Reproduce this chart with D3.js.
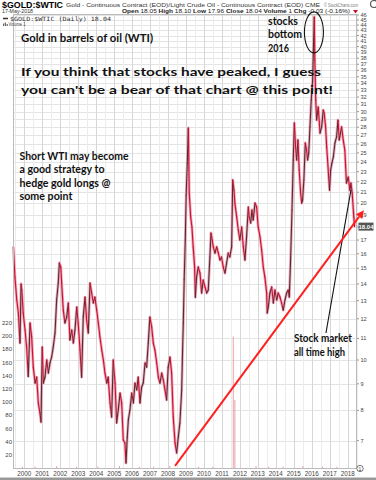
<!DOCTYPE html>
<html><head><meta charset="utf-8">
<script src="https://cdn.jsdelivr.net/npm/d3@7"></script>
<style>html,body{margin:0;padding:0;background:#fff;overflow:hidden}svg{display:block}</style>
</head><body><svg id="c" width="376" height="480"></svg>
<script>
// ---- data ----
const years = [1999.39,1999.48,1999.58,1999.67,1999.76,1999.82,1999.86,1999.94,2000.04,2000.13,
2000.22,2000.32,2000.41,2000.50,2000.60,2000.69,2000.78,2000.87,2000.93,2001.00,
2001.06,2001.15,2001.25,2001.34,2001.43,2001.52,2001.61,2001.71,2001.80,2001.89,
2001.95,2002.03,2002.08,2002.17,2002.26,2002.36,2002.45,2002.54,2002.64,2002.73,
2002.82,2002.92,2003.00,2003.10,2003.19,2003.28,2003.38,2003.47,2003.56,2003.66,
2003.75,2003.84,2003.93,2004.03,2004.12,2004.21,2004.31,2004.40,2004.49,2004.59,
2004.67,2004.77,2004.86,2004.95,2005.05,2005.14,2005.23,2005.33,2005.42,2005.51,
2005.60,2005.66,2005.73,2005.79,2005.88,2005.98,2006.07,2006.16,2006.26,2006.34,
2006.44,2006.53,2006.62,2006.72,2006.81,2006.90,2006.99,2007.09,2007.18,2007.27,
2007.37,2007.46,2007.55,2007.65,2007.74,2007.83,2007.92,2008.01,2008.11,2008.20,
2008.29,2008.39,2008.48,2008.57,2008.66,2008.76,2008.81,2008.85,2008.90,2008.96,
2009.01,2009.07,2009.13,2009.18,2009.26,2009.33,2009.40,2009.48,2009.52,2009.59,
2009.68,2009.78,2009.87,2009.96,2010.06,2010.15,2010.24,2010.33,2010.39,2010.46,
2010.52,2010.61,2010.71,2010.80,2010.89,2010.98,2011.07,2011.17,2011.26,2011.35,
2011.44,2011.54,2011.60,2011.67,2011.72,2011.82,2011.91,2012.00,2012.10,2012.19,
2012.28,2012.37,2012.47,2012.52,2012.60,2012.67,2012.74,2012.84,2012.93,2013.02,
2013.12,2013.21,2013.30,2013.39,2013.49,2013.52,2013.58,2013.67,2013.77,2013.86,
2013.95,2014.05,2014.13,2014.23,2014.32,2014.41,2014.51,2014.60,2014.69,2014.75,
2014.82,2014.90,2014.97,2015.03,2015.10,2015.16,2015.23,2015.30,2015.38,2015.44,
2015.49,2015.56,2015.64,2015.71,2015.77,2015.83,2015.90,2015.97,2016.05,2016.09,
2016.14,2016.17,2016.22,2016.27,2016.36,2016.46,2016.55,2016.64,2016.69,2016.77,
2016.83,2016.88,2016.94,2016.99,2017.05,2017.12,2017.20,2017.29,2017.38,2017.46,
2017.53,2017.66,2017.75,2017.84,2017.93,2018.03,2018.12,2018.18,2018.25,2018.34,
2018.38];
const ratio = [16.5,14.43,13.04,12.31,10.78,14.0,13.63,12.31,11.42,10.59,
9.3,11.78,11.07,9.69,9.03,9.27,8.27,7.91,7.60,10.59,
9.03,9.27,10.0,9.44,9.87,10.13,10.59,11.27,13.04,14.05,
15.36,15.09,14.05,12.47,11.78,12.09,12.87,10.93,11.42,10.78,
11.42,12.64,11.78,10.45,9.27,12.09,13.21,11.93,11.27,14.05,
13.45,12.87,13.21,12.47,11.78,11.07,10.45,10.0,9.44,9.03,
9.27,8.27,7.77,10.0,9.03,7.57,8.02,8.64,8.27,7.02,
6.93,6.34,7.11,7.67,8.02,8.64,8.27,9.03,8.76,9.27,
8.27,8.87,9.03,9.87,9.69,10.78,12.09,11.57,10.78,10.45,
9.87,9.27,9.03,9.44,9.15,8.76,8.38,9.69,10.13,9.44,
7.77,6.93,6.63,7.11,7.57,8.76,10.45,11.78,14.3,17.0,
20.74,23.89,27.91,20.93,18.83,18.01,16.49,15.09,13.2,14.43,
15.09,14.69,13.45,14.24,13.81,13.45,13.63,15.77,17.54,17.0,
16.49,16.05,16.49,16.05,15.56,15.77,15.09,14.69,15.36,16.05,
15.77,16.49,22.17,21.2,20.02,18.83,17.77,17.0,18.01,16.49,
15.56,17.23,19.67,18.83,18.33,19.42,18.57,20.02,19.67,18.0,
17.23,16.27,15.09,14.43,13.45,12.31,12.64,13.45,13.81,12.87,
13.63,13.04,13.45,13.21,12.87,12.47,13.04,13.45,13.63,13.21,
15.56,19.42,24.22,28.53,25.65,24.22,26.47,23.17,20.93,20.02,
20.29,22.17,26.12,25.32,24.22,24.98,28.04,31.58,34.5,39.4,
45.6,37.7,31.6,28.91,30.62,27.29,28.04,30.21,29.82,28.04,
25.65,24.22,22.47,21.2,23.17,23.89,24.54,26.12,26.82,28.9,
26.47,28.04,26.47,25.32,21.88,22.47,21.2,21.88,20.93,18.83,
18.04];
const volYears = [1999.9,2000.6,2001.8,2002.9,2004.1,2005.3,2006.4,2007.2,2008.1,2009.7,2010.5,2011.63,2011.72,2012.9,2013.6,2014.4,2015.5,2016.6,2017.4];
const volume = [2,2,3,2,2,3,2,2,3,2,2,199,103,3,2,2,3,2,2];
const rightTicks = d3.range(7, 47);
const leftTicks = [20,40,60,80,100,120,140,160,180,200,220];
const yearTicks = d3.range(2000, 2019);
const lastValue = 18.04;
const trendLine = [[2008.39, 6.26], [2018.9, 19.4]];
const pointerLine = [[2016.79, 11.27], [2018.18, 21.2]];
const bottomMark = [2016.12, 42.6];

// ---- layout ----
const svg = d3.select("#c");
const P = {l: 13, r: 357, t: 14, b: 469};
const x = d3.scaleLinear().domain([2000, 2018]).range([24.3, 347.7]);
const y = d3.scaleLog().domain([10, 20]).range([360, 203.3]);
const yv = d3.scaleLinear().domain([0, 220]).range([468, 322.7]);
const F = "'Liberation Sans', Arial, sans-serif";
const A = "Lato, 'Open Sans', sans-serif";

// header
svg.append("text").attr("x",2).attr("y",7.5).attr("font-family",F).attr("font-weight","bold")
  .attr("font-size",8.6).attr("textLength",61).attr("lengthAdjust","spacingAndGlyphs").text("$GOLD:$WTIC");
svg.append("text").attr("x",66).attr("y",7).attr("font-family",F).attr("font-size",6).attr("fill","#333")
  .attr("textLength",254).attr("lengthAdjust","spacingAndGlyphs")
  .text("Gold - Continuous Contract (EOD)/Light Crude Oil - Continuous Contract (EOD) CME");
svg.append("text").attr("x",324).attr("y",7).attr("font-family",F).attr("font-size",6).attr("fill","#777")
  .attr("textLength",34).attr("lengthAdjust","spacingAndGlyphs").text("© StockCharts.com");
svg.append("circle").attr("cx",374).attr("cy",4).attr("r",3.5).attr("fill","none").attr("stroke","#555").attr("stroke-width",1.2);
svg.append("text").attr("x",2).attr("y",13.2).attr("font-family",F).attr("font-size",5.4).attr("fill","#333")
  .attr("textLength",31).attr("lengthAdjust","spacingAndGlyphs").text("17-May-2018");
const hdr = svg.append("text").attr("x",122).attr("y",13.2).attr("font-family",F).attr("font-size",5.6).attr("fill","#222")
  .attr("textLength",228).attr("lengthAdjust","spacingAndGlyphs");
[["Open ",1],["18.05 ",0],["High ",1],["18.10 ",0],["Low ",1],["17.96 ",0],["Close ",1],["18.04 ",0],["Volume ",1],["1 ",0],["Chg ",1],["-0.03 (-0.16%)",0]]
  .forEach(([t,b]) => hdr.append("tspan").attr("font-weight", b ? "bold" : "normal").text(t));
svg.append("path").attr("d","M353,10 L358,10 L355.5,13.5 Z").attr("fill","#c8102e");

// plot frame + grid
const g = svg.append("g");
g.append("rect").attr("x",P.l).attr("y",P.t).attr("width",P.r-P.l).attr("height",P.b-P.t).attr("fill","#fff");
g.selectAll(".hg").data(rightTicks).join("line")
  .attr("x1",P.l).attr("x2",P.r).attr("y1",d=>Math.round(y(d))+0.5).attr("y2",d=>Math.round(y(d))+0.5)
  .attr("stroke","#e4e4e4").attr("stroke-width",1);
const halfYears = d3.range(1999.5, 2018.6, 0.5).filter(v => x(v) > P.l && x(v) < P.r);
g.selectAll(".vg").data(halfYears).join("line")
  .attr("x1",d=>Math.round(x(d))+0.5).attr("x2",d=>Math.round(x(d))+0.5).attr("y1",P.t).attr("y2",P.b)
  .attr("stroke",d => Number.isInteger(d) ? "#d6d6d6" : "#ececec").attr("stroke-width",1);

// volume bars
g.selectAll(".vb").data(volYears.map((d,i)=>[d, volume[i]])).join("line")
  .attr("x1",d=>x(d[0])).attr("x2",d=>x(d[0])).attr("y1",yv(0)).attr("y2",d=>yv(d[1]))
  .attr("stroke","#e8a0a8").attr("stroke-width",1);
g.append("line").attr("x1",P.l).attr("x2",P.r).attr("y1",P.b-0.5).attr("y2",P.b-0.5).attr("stroke","#e8a8b0");

// price line
const pts = years.map((d,i)=>[d, ratio[i]]);
const line = d3.line().x(d=>x(d[0])).y(d=>y(d[1]));
g.append("path").attr("d",line(pts)).attr("fill","none").attr("stroke","#f2a6b8").attr("stroke-width",2.8)
  .attr("stroke-linejoin","round");
g.selectAll(".seg").data(d3.pairs(pts)).join("line")
  .attr("x1",d=>x(d[0][0])).attr("y1",d=>y(d[0][1])).attr("x2",d=>x(d[1][0])).attr("y2",d=>y(d[1][1]))
  .attr("stroke",d => d[1][1] >= d[0][1] ? "#4a3035" : "#c8102e").attr("stroke-width",1.1).attr("stroke-linecap","round");

// frame border
g.append("rect").attr("x",P.l+0.5).attr("y",P.t+0.5).attr("width",P.r-P.l-1).attr("height",P.b-P.t-1)
  .attr("fill","none").attr("stroke","#bbb");

// legend inside plot
svg.append("line").attr("x1",3).attr("x2",8).attr("y1",18.5).attr("y2",18.5).attr("stroke","#333").attr("stroke-width",1.5);
svg.append("text").attr("x",10).attr("y",20.5).attr("font-family","'DejaVu Sans Mono', monospace").attr("font-size",5.8)
  .attr("fill","#333").attr("textLength",101).attr("lengthAdjust","spacingAndGlyphs").text("$GOLD:$WTIC (Daily) 18.04");
svg.append("rect").attr("x",3).attr("y",23.5).attr("width",1.2).attr("height",2.5).attr("fill","#666");
svg.append("rect").attr("x",4.8).attr("y",22.5).attr("width",1.2).attr("height",3.5).attr("fill","#666");
svg.append("rect").attr("x",6.6).attr("y",24).attr("width",1.2).attr("height",2).attr("fill","#666");
svg.append("text").attr("x",8.5).attr("y",26.2).attr("font-family",F).attr("font-size",5).attr("fill","#444")
  .attr("textLength",17).attr("lengthAdjust","spacingAndGlyphs").text("Volume 1");

// right axis
const tagY = y(lastValue);
svg.selectAll(".rt").data(rightTicks.filter(d => Math.abs(y(d) - tagY) > 5)).join("text")
  .attr("x",360.5).attr("y",d=>y(d)+2).attr("font-family",F).attr("font-size",5.6).attr("fill","#444")
  .text(d=>d);
svg.selectAll(".rtk").data(rightTicks).join("line")
  .attr("x1",P.r).attr("x2",P.r+2).attr("y1",d=>y(d)).attr("y2",d=>y(d)).attr("stroke","#999");
// last value tag
svg.append("rect").attr("x",358.5).attr("y",tagY-4).attr("width",15).attr("height",8).attr("fill","#555");
svg.append("text").attr("x",366).attr("y",tagY+2.2).attr("text-anchor","middle").attr("font-family",F)
  .attr("font-size",6).attr("fill","#fff").attr("font-weight","bold").text(lastValue.toFixed(2));
// volume circle label
svg.append("circle").attr("cx",360).attr("cy",P.b-0.5).attr("r",3.2).attr("fill","#fff").attr("stroke","#555").attr("stroke-width",0.8);
svg.append("text").attr("x",360).attr("y",P.b+1.5).attr("text-anchor","middle").attr("font-family",F).attr("font-size",5).attr("fill","#333").text("1");

// left axis (volume)
svg.selectAll(".lt").data(leftTicks).join("text")
  .attr("x",12).attr("y",d=>yv(d)+2.2).attr("text-anchor","end").attr("font-family",F).attr("font-size",6).attr("fill","#444")
  .text(d=>d);

// bottom axis
svg.selectAll(".bt").data(yearTicks).join("text")
  .attr("x",d=>x(d)).attr("y",P.b+7).attr("text-anchor","middle").attr("font-family",F).attr("font-size",6.3).attr("fill","#444")
  .text(d=>d);
svg.append("rect").attr("x",0).attr("y",477.5).attr("width",376).attr("height",2.5).attr("fill","#999");

// annotations
function ann(t, x0, yb, w, size) {
  svg.append("text").attr("x",x0).attr("y",yb).attr("font-family",A).attr("font-weight","bold")
    .attr("font-size",size||10.5).attr("fill","#111").attr("textLength",w).attr("lengthAdjust","spacingAndGlyphs").text(t);
}
ann("Gold in barrels of oil (WTI)", 21, 41.5, 132);
ann("If you think that stocks have peaked, I guess", 21, 76, 300);
ann("you can't be a bear of that chart @ this point!", 21, 94, 312);
ann("Short WTI may become", 19.5, 159.5, 109);
ann("a good strategy to", 19.5, 173, 85);
ann("hedge gold longs @", 19.5, 186.5, 91);
ann("some point", 19.5, 200, 53);
ann("stocks", 268, 25, 30);
ann("bottom", 268, 38, 34);
ann("2016", 268, 51.5, 21);
ann("Stock market", 294, 342, 58);
ann("all time high", 294, 355.5, 51);

svg.append("ellipse").attr("cx",x(bottomMark[0])).attr("cy",y(bottomMark[1])).attr("rx",9.5).attr("ry",20.5)
  .attr("fill","none").attr("stroke","#111").attr("stroke-width",1.1);
svg.append("line").attr("x1",x(pointerLine[0][0])).attr("y1",y(pointerLine[0][1]))
  .attr("x2",x(pointerLine[1][0])).attr("y2",y(pointerLine[1][1])).attr("stroke","#111").attr("stroke-width",1.1);

// red trend arrow
const tx0 = x(trendLine[0][0]), ty0 = y(trendLine[0][1]), tx1 = x(trendLine[1][0]), ty1 = y(trendLine[1][1]);
const ang = Math.atan2(ty1-ty0, tx1-tx0);
const hl = 8, hw = 4;
const bx = tx1 - hl*Math.cos(ang), by = ty1 - hl*Math.sin(ang);
svg.append("line").attr("x1",tx0).attr("y1",ty0).attr("x2",bx).attr("y2",by).attr("stroke","#ff2020").attr("stroke-width",2);
svg.append("path").attr("d",`M${tx1},${ty1} L${bx - hw*Math.sin(ang)},${by + hw*Math.cos(ang)} L${bx + hw*Math.sin(ang)},${by - hw*Math.cos(ang)} Z`)
  .attr("fill","#ff2020");
</script></body></html>
